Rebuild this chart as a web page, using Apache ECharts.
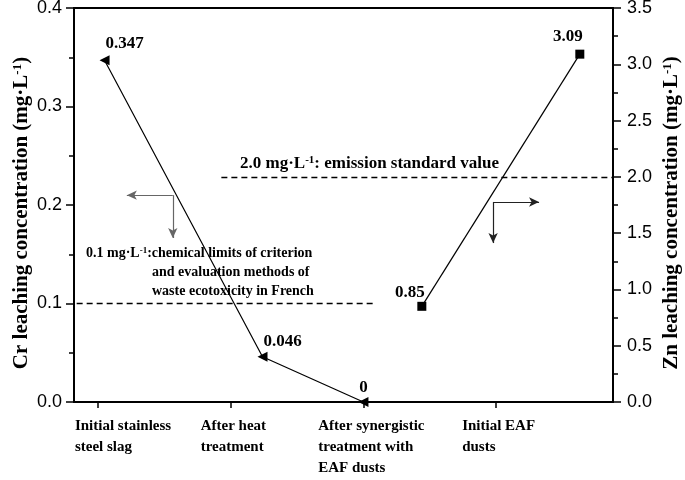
<!DOCTYPE html>
<html><head><meta charset="utf-8">
<script src="https://cdn.jsdelivr.net/npm/echarts@6/dist/echarts.min.js"></script>
<style>html,body{margin:0;padding:0;background:#fff}#c{width:685px;height:480px}</style>
</head><body><div id="c"></div>
<script>
// ---- data ----
const categories = ['Initial stainless\nsteel slag', 'After heat\ntreatment', 'After synergistic\ntreatment with\nEAF dusts', 'Initial EAF\ndusts'];
const categoryTicks = [1, 2, 3, 4];
const crX = [1.05, 2.24, 3.0];
const crValues = [0.347, 0.046, 0];
const znX = [3.44, 4.63];
const znValues = [0.85, 3.09];
const crLimit = 0.1;
const znLimit = 2.0;
const crLimitSpan = [0.84, 3.08];
const znLimitSpan = [1.93, 4.88];
// arrow guides (data space): corner, horizontal end, vertical end
const crArrow = { corner: [1.564, 0.210], hEnd: [1.218, 0.210], vEnd: [1.564, 0.1665] };
const znArrow = { corner: [3.977, 1.777], hEnd: [4.323, 1.777], vEnd: [3.977, 1.412] };

// ---- layout ----
const labelAnchors = [0.827, 1.774, 2.66, 3.744];
const crLabelOffsets = [[20, 2], [20, 3], [0, 4]];
const znLabelOffsets = [[-12, 4], [-12, 0]];

const serif = '"Liberation Serif","Times New Roman",serif';
const sans = '"Liberation Sans",Arial,sans-serif';

const chart = echarts.init(document.getElementById('c'));

function yAxisCommon(max, interval, pos, gapName, margin, nameText) {
  return {
    type: 'value', position: pos, min: 0, max: max, interval: interval,
    axisLine: { show: true, lineStyle: { color: '#000', width: 2 } },
    axisTick: { show: true, inside: false, length: 8, lineStyle: { color: '#000', width: 1.5 } },
    minorTick: { show: true, splitNumber: 2, length: 5, lineStyle: { color: '#000', width: 1.5 } },
    splitLine: { show: false },
    axisLabel: { fontFamily: sans, fontSize: 18, color: '#000', margin: margin,
      formatter: v => v.toFixed(1) },
    name: nameText, nameLocation: 'middle', nameRotate: 90, nameGap: gapName,
    nameMoveOverlap: false,
    nameTextStyle: { fontFamily: serif, fontWeight: 'bold', fontSize: 21, color: '#000',
      padding: [0, 16, 0, 0],
      rich: { b: { fontFamily: serif, fontWeight: 'bold', fontSize: 21 },
              s: { fontFamily: serif, fontWeight: 'bold', fontSize: 13, verticalAlign: 'top' } } }
  };
}

const lineStyleBlack = { color: '#000', width: 1.2 };

const option = {
  animation: false,
  backgroundColor: '#fff',
  grid: { left: 74, right: 72, top: 8, bottom: 78, show: true, borderColor: '#000', borderWidth: 2,
    containLabel: false, outerBoundsMode: 'none' },
  xAxis: {
    type: 'value', min: 0.82, max: 4.88,
    axisLine: { show: true, onZero: false, lineStyle: { color: '#000', width: 2 } },
    axisTick: { show: true, inside: false, length: 6, customValues: categoryTicks, lineStyle: { color: '#000', width: 1.5 } },
    splitLine: { show: false },
    axisLabel: {
      customValues: labelAnchors, align: 'left', verticalAlign: 'top', margin: 14,
      fontFamily: serif, fontWeight: 'bold', fontSize: 15, lineHeight: 21, color: '#000',
      formatter: v => categories[Math.round(v) - 1]
    }
  },
  yAxis: [
    yAxisCommon(0.4, 0.1, 'left', 42, 12, '{b|Cr leaching concentration (mg·L}{s|-1}{b|)}'),
    yAxisCommon(3.5, 0.5, 'right', 48, 14, '{b|Zn leaching concentration (mg·L}{s|-1}{b|)}')
  ],
  series: [
    {
      type: 'line', yAxisIndex: 0,
      data: crX.map((x, i) => ({ value: [x, crValues[i]],
        label: { offset: crLabelOffsets[i] } })),
      symbol: 'triangle', symbolRotate: 90, symbolSize: 10, showAllSymbol: true,
      itemStyle: { color: '#000' }, lineStyle: lineStyleBlack,
      label: { show: true, position: 'top', fontFamily: serif, fontWeight: 'bold', fontSize: 17, color: '#000',
        formatter: p => String(p.value[1]) },
      markLine: {
        silent: true, animation: false, label: { show: false },
        data: [
          [{ coord: [crLimitSpan[0], crLimit], symbol: 'none', lineStyle: { type: [6, 4], color: '#000', width: 1.3 } },
           { coord: [crLimitSpan[1], crLimit], symbol: 'none' }],
          [{ coord: crArrow.corner, symbol: 'none', lineStyle: { type: 'solid', color: '#666', width: 1.2 } },
           { coord: crArrow.hEnd, symbol: 'arrow', symbolSize: [7, 10] }],
          [{ coord: crArrow.corner, symbol: 'none', lineStyle: { type: 'solid', color: '#666', width: 1.2 } },
           { coord: crArrow.vEnd, symbol: 'arrow', symbolSize: [7, 10] }]
        ]
      },
      z: 3
    },
    {
      type: 'line', yAxisIndex: 1,
      data: znX.map((x, i) => ({ value: [x, znValues[i]],
        label: { offset: znLabelOffsets[i] } })),
      symbol: 'rect', symbolSize: 9, showAllSymbol: true,
      itemStyle: { color: '#000' }, lineStyle: lineStyleBlack,
      label: { show: true, position: 'top', fontFamily: serif, fontWeight: 'bold', fontSize: 17, color: '#000',
        formatter: p => String(p.value[1]) },
      markLine: {
        silent: true, animation: false, label: { show: false },
        data: [
          [{ coord: [znLimitSpan[0], znLimit], symbol: 'none', lineStyle: { type: [6, 4], color: '#000', width: 1.3 } },
           { coord: [znLimitSpan[1], znLimit], symbol: 'none' }],
          [{ coord: znArrow.corner, symbol: 'none', lineStyle: { type: 'solid', color: '#222', width: 1.2 } },
           { coord: znArrow.hEnd, symbol: 'arrow', symbolSize: [7, 10] }],
          [{ coord: znArrow.corner, symbol: 'none', lineStyle: { type: 'solid', color: '#222', width: 1.2 } },
           { coord: znArrow.vEnd, symbol: 'arrow', symbolSize: [7, 10] }]
        ]
      },
      z: 3
    }
  ],
  graphic: [
    { type: 'text', left: 240, top: 155, style: {
      text: '{b|2.0 mg·L}{s|-1}{b|: emission standard value}', fill: '#000',
      rich: { b: { fontFamily: serif, fontWeight: 'bold', fontSize: 17 }, s: { fontFamily: serif, fontWeight: 'bold', fontSize: 11, verticalAlign: 'top' } } } },
    { type: 'text', left: 86, top: 246, style: {
      text: '{b|0.1 mg·L}{s|-1}{b|:chemical limits of criterion}', fill: '#000',
      rich: { b: { fontFamily: serif, fontWeight: 'bold', fontSize: 14 }, s: { fontFamily: serif, fontWeight: 'bold', fontSize: 9, verticalAlign: 'top' } } } },
    { type: 'text', left: 152, top: 265, style: {
      text: 'and evaluation methods of', fill: '#000', font: 'bold 14px ' + serif } },
    { type: 'text', left: 152, top: 284, style: {
      text: 'waste ecotoxicity in French', fill: '#000', font: 'bold 14px ' + serif } }
  ]
};
chart.setOption(option);
</script>
</body></html>
